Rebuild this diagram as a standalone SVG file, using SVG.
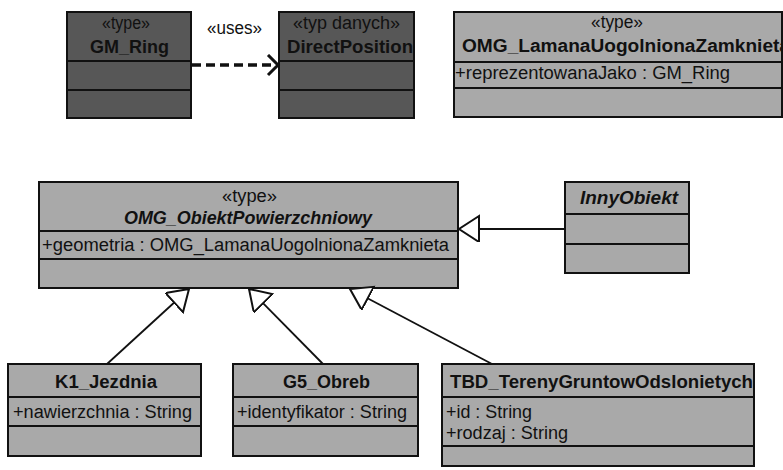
<svg xmlns="http://www.w3.org/2000/svg" width="783" height="470" viewBox="0 0 783 470">
<style>
.dark{fill:#575757;stroke:#111;stroke-width:2}
.light{fill:#a9a9a9;stroke:#111;stroke-width:2}
.div{stroke:#111;stroke-width:2}
text{font-family:"Liberation Sans",Arial,sans-serif;font-size:18px;fill:#111}
.b{font-weight:bold}
.bi{font-weight:bold;font-style:italic}
.conn{stroke:#111;stroke-width:1.8;fill:none}
</style>
<defs>
<marker id="gen" markerUnits="userSpaceOnUse" markerWidth="24" markerHeight="30" refX="21" refY="13" orient="auto">
<path d="M1,0 L21,13 L1,26 z" fill="#fff" stroke="#111" stroke-width="2"/>
</marker>
<marker id="dep" markerUnits="userSpaceOnUse" markerWidth="16" markerHeight="26" refX="12" refY="11" orient="auto">
<path d="M2,1 L12,11 L2,21" fill="none" stroke="#111" stroke-width="3"/>
</marker>
</defs>

<g id="GM_Ring">
<rect class="dark" x="67" y="12" width="124" height="106"/>
<line class="div" x1="67" y1="61" x2="191" y2="61"/>
<line class="div" x1="67" y1="90" x2="191" y2="90"/>
<text x="102" y="29" textLength="48" lengthAdjust="spacingAndGlyphs">«type»</text>
<text class="b" x="90" y="53" textLength="79" lengthAdjust="spacingAndGlyphs">GM_Ring</text>
</g>

<g id="DirectPosition">
<rect class="dark" x="279" y="12" width="135" height="106"/>
<line class="div" x1="279" y1="61" x2="414" y2="61"/>
<line class="div" x1="279" y1="90" x2="414" y2="90"/>
<text x="293" y="29" textLength="107" lengthAdjust="spacingAndGlyphs">«typ danych»</text>
<text class="b" x="287" y="53" textLength="126" lengthAdjust="spacingAndGlyphs">DirectPosition</text>
</g>

<g id="OMG_LamanaUogolnionaZamknieta">
<rect class="light" x="454" y="12" width="328" height="105"/>
<line class="div" x1="454" y1="62" x2="782" y2="62"/>
<line class="div" x1="454" y1="88" x2="782" y2="88"/>
<text x="591" y="28" textLength="52" lengthAdjust="spacingAndGlyphs">«type»</text>
<text class="b" x="462" y="52" textLength="328" lengthAdjust="spacingAndGlyphs">OMG_LamanaUogolnionaZamknieta</text>
<text x="455" y="79" textLength="275" lengthAdjust="spacingAndGlyphs">+reprezentowanaJako : GM_Ring</text>
</g>

<g id="OMG_ObiektPowierzchniowy">
<rect class="light" x="39" y="182" width="419" height="106"/>
<line class="div" x1="39" y1="231" x2="458" y2="231"/>
<line class="div" x1="39" y1="259" x2="458" y2="259"/>
<text x="222" y="202" textLength="55" lengthAdjust="spacingAndGlyphs">«type»</text>
<text class="bi" x="124" y="224" textLength="248" lengthAdjust="spacingAndGlyphs">OMG_ObiektPowierzchniowy</text>
<text x="42" y="251" textLength="407" lengthAdjust="spacingAndGlyphs">+geometria : OMG_LamanaUogolnionaZamknieta</text>
</g>

<g id="InnyObiekt">
<rect class="light" x="565" y="182" width="124" height="91"/>
<line class="div" x1="565" y1="214" x2="689" y2="214"/>
<line class="div" x1="565" y1="244" x2="689" y2="244"/>
<text class="bi" x="580" y="204" textLength="98" lengthAdjust="spacingAndGlyphs">InnyObiekt</text>
</g>

<g id="K1_Jezdnia">
<rect class="light" x="8" y="364" width="193" height="92"/>
<line class="div" x1="8" y1="397" x2="201" y2="397"/>
<line class="div" x1="8" y1="426" x2="201" y2="426"/>
<text class="b" x="55" y="388" textLength="102" lengthAdjust="spacingAndGlyphs">K1_Jezdnia</text>
<text x="13" y="418" textLength="179" lengthAdjust="spacingAndGlyphs">+nawierzchnia : String</text>
</g>

<g id="G5_Obreb">
<rect class="light" x="233" y="364" width="185" height="92"/>
<line class="div" x1="233" y1="397" x2="418" y2="397"/>
<line class="div" x1="233" y1="426" x2="418" y2="426"/>
<text class="b" x="283" y="388" textLength="87" lengthAdjust="spacingAndGlyphs">G5_Obreb</text>
<text x="237" y="418" textLength="170" lengthAdjust="spacingAndGlyphs">+identyfikator : String</text>
</g>

<g id="TBD_TerenyGruntowOdslonietych">
<rect class="light" x="442" y="364" width="312" height="102"/>
<line class="div" x1="442" y1="397" x2="754" y2="397"/>
<line class="div" x1="442" y1="446" x2="754" y2="446"/>
<text class="b" x="450" y="388" textLength="303" lengthAdjust="spacingAndGlyphs">TBD_TerenyGruntowOdslonietych</text>
<text x="446" y="418" textLength="86" lengthAdjust="spacingAndGlyphs">+id : String</text>
<text x="446" y="439" textLength="122" lengthAdjust="spacingAndGlyphs">+rodzaj : String</text>
</g>

<g id="connectors">
<line x1="192" y1="65" x2="278" y2="65" stroke="#111" stroke-width="3.5" stroke-dasharray="9,5" marker-end="url(#dep)"/>
<text x="207" y="34" textLength="55" lengthAdjust="spacingAndGlyphs">«uses»</text>
<line class="conn" x1="565" y1="229" x2="459" y2="229" marker-end="url(#gen)"/>
<line class="conn" x1="107" y1="364" x2="189" y2="289" marker-end="url(#gen)"/>
<line class="conn" x1="323" y1="364" x2="249" y2="289" marker-end="url(#gen)"/>
<line class="conn" x1="492" y1="364" x2="350" y2="289" marker-end="url(#gen)"/>
</g>
</svg>
